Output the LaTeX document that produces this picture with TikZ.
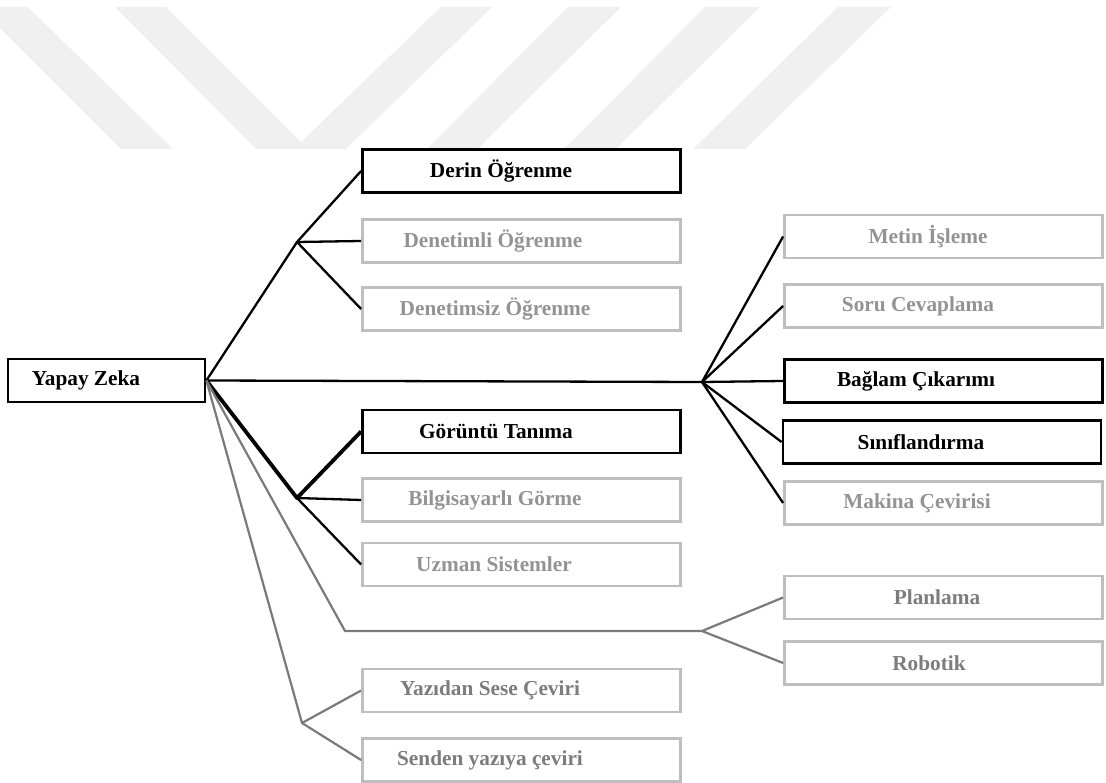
\documentclass[tikz,border=0pt]{standalone}
\usepackage{fontspec}
\setmainfont{Liberation Serif}[BoldFont={Liberation Serif Bold}]
\definecolor{wmark}{HTML}{F0F0F0}
\definecolor{boxgray}{HTML}{BEBEBE}
\definecolor{linegray}{HTML}{7A7A7A}
\definecolor{txtlight}{HTML}{939393}
\definecolor{txtdim}{HTML}{7C7C7C}
\tikzset{
  box/.style={draw, line width=2.8pt, minimum width=318pt, minimum height=43pt,
    inner sep=0pt, font=\fontsize{21.3}{23}\selectfont\bfseries,
    execute at end node={\hspace*{#1}}},
  box/.default=54pt,
  keybox/.style={box=#1, draw=black, text=black},
  keybox/.default=54pt,
  softbox/.style={box=#1, draw=boxgray, text=txtlight},
  softbox/.default=54pt,
  dimbox/.style={box=#1, draw=boxgray, text=txtdim},
  dimbox/.default=54pt,
  link/.style={line width=2.3pt, black, line join=round},
  heavylink/.style={line width=3.8pt, black, line join=round},
  greylink/.style={line width=2.2pt, linegray, line join=round}
}
\begin{document}
\begin{tikzpicture}[x=1pt,y=-1pt]
\useasboundingbox (0,0) rectangle (1106,783);

% watermark
\fill[wmark] (-21,7) -- (28,7) -- (173,149) -- (121,149) -- cycle;
\fill[wmark] (115,7) -- (166,7) -- (301,142) -- (441,7) -- (492,7)
  -- (346,149) -- (256,149) -- cycle;
\fill[wmark] (568,7) -- (621,7) -- (477,149) -- (427,149) -- cycle;
\fill[wmark] (705,7) -- (760,7) -- (616,149) -- (564,149) -- cycle;
\fill[wmark] (838,7) -- (891,7) -- (745,149) -- (693,149) -- cycle;

% root
\node[keybox=41pt, minimum width=197pt] (ai) at (106.5,380.5) {Yapay Zeka};

% left column
\node[keybox=41pt] (deep) at (521.5,171) {Derin Öğrenme};
\node[softbox=57pt] (supv) at (521.5,241) {Denetimli Öğrenme};
\node[softbox=53pt] (unsupv) at (521.5,309) {Denetimsiz Öğrenme};
\node[keybox=51pt] (imgrec) at (521.5,431.5) {Görüntü Tanıma};
\node[softbox=53pt] (cvis) at (521.5,500) {Bilgisayarlı Görme};
\node[softbox=55pt] (expert) at (521.5,564.5) {Uzman Sistemler};
\node[dimbox=63pt] (tts) at (521.5,690.5) {Yazıdan Sese Çeviri};
\node[dimbox=63pt] (stt) at (521.5,760) {Senden yazıya çeviri};

% right column
\node[softbox=31pt] (textp) at (943.5,236.5) {Metin İşleme};
\node[softbox=51pt] (qa) at (943.5,306) {Soru Cevaplama};
\node[keybox=55pt] (ctx) at (943.5,381) {Bağlam Çıkarımı};
\node[keybox=42pt] (cls) at (942,442) {Sınıflandırma};
\node[softbox=53pt] (mt) at (943.5,503) {Makina Çevirisi};
\node[dimbox=13pt] (plan) at (943.5,597.5) {Planlama};
\node[dimbox=29pt] (robot) at (943.5,663) {Robotik};

% branch points
\coordinate (hubA) at (297,242);
\coordinate (hubB) at (297,498);
\coordinate (hubC) at (302,723);
\coordinate (hubR) at (702,382);
\coordinate (bend) at (345,631);
\coordinate (hubP) at (702,631);

% connectors
\draw[link] (ai.east) -- (hubA) -- (deep.west);
\draw[link] (hubA) -- (supv.west);
\draw[link] (hubA) -- (unsupv.west);
\draw[link] (ai.east) -- (hubR) -- (ctx.west);
\foreach \n in {textp,qa,cls,mt}
  \draw[link] (hubR) -- (\n.west);
\draw[heavylink] (ai.east) -- (hubB) -- (imgrec.west);
\draw[link] (hubB) -- (cvis.west);
\draw[link] (hubB) -- (expert.west);
\draw[greylink] (ai.east) -- (bend) -- (hubP) -- (plan.west);
\draw[greylink] (hubP) -- (robot.west);
\draw[greylink] (ai.east) -- (hubC) -- (tts.west);
\draw[greylink] (hubC) -- (stt.west);
\end{tikzpicture}
\end{document}
